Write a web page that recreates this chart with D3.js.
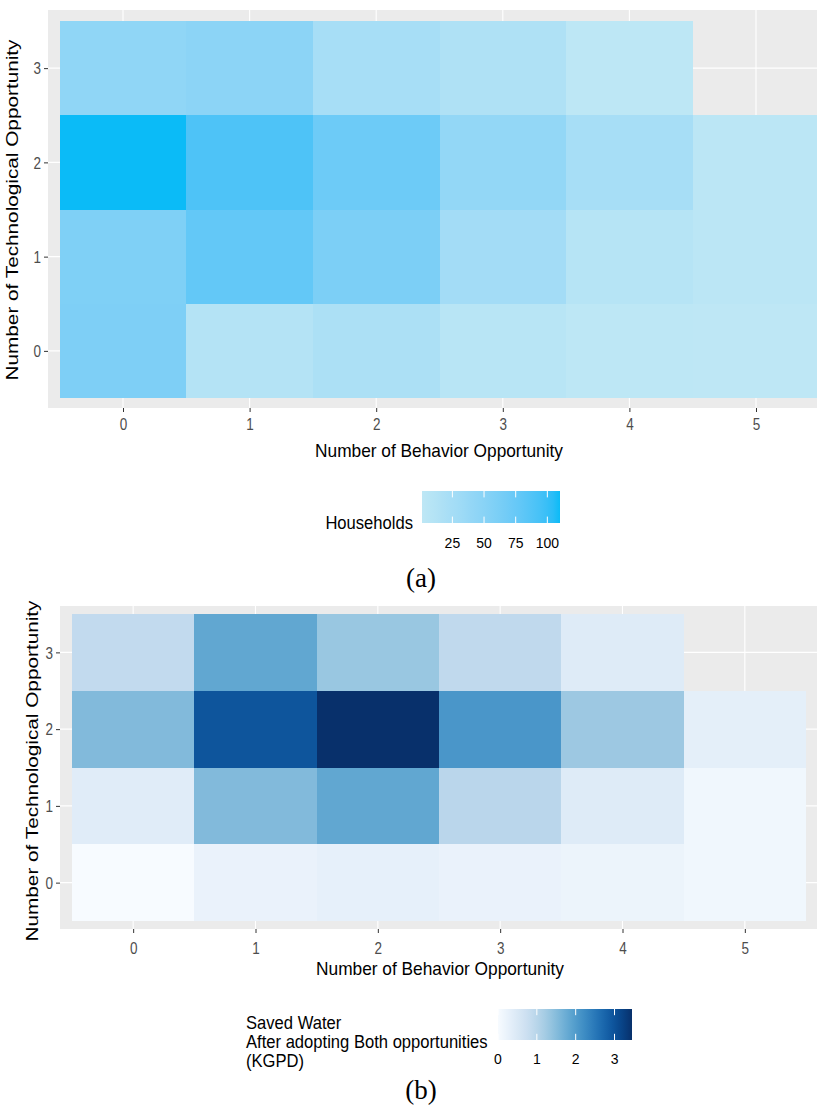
<!DOCTYPE html>
<html>
<head>
<meta charset="utf-8">
<script src="https://cdn.jsdelivr.net/npm/d3@7"></script>
<style>
  body { margin: 0; background: #fff; }
  svg { display: block; }
</style>
</head>
<body>
<svg id="fig" width="817" height="1111"></svg>
<script>
// categories
const behavior = [0, 1, 2, 3, 4, 5];
const technology = [0, 1, 2, 3];

// (a) households, one array per technological level, indexed by behavior (null = no tile)
const householdsTech0 = [59, 11, 19, 7, 2, 1];
const householdsTech1 = [58, 78, 60, 27, 9, 4];
const householdsTech2 = [110, 90, 71, 41, 23, 4];
const householdsTech3 = [44, 47, 23, 16, 2, null];
const householdsTicks = [25, 50, 75, 100];

// (b) saved water (KGPD)
const savedTech0 = [0, 0.23, 0.29, 0.23, 0.19, 0.12];
const savedTech1 = [0.40, 1.53, 1.84, 0.98, 0.43, 0.12];
const savedTech2 = [1.53, 2.97, 3.45, 2.08, 1.29, 0.33];
const savedTech3 = [0.88, 1.84, 1.32, 0.91, 0.43, null];
const savedTicks = [0, 1, 2, 3];

const svg = d3.select('#fig');
const FONT = '"Liberation Sans", Arial, sans-serif';
const STRETCH = 1.1;   // source figure text is a bit taller than wide
const YSTRETCH = 1.2;  // rotated titles are stretched along their length

function toCells(rows) {
  const cells = [];
  rows.forEach((row, t) => row.forEach((v, b) => {
    if (v != null) cells.push({ b: behavior[b], t: technology[t], v: v });
  }));
  return cells;
}

// horizontal text with the vertical stretch of the original
function label(g, x, y, txt, size, anchor, color) {
  return g.append('text')
    .attr('transform', 'translate(' + x + ',' + y + ') scale(1,' + STRETCH + ')')
    .attr('text-anchor', anchor || 'middle')
    .attr('font-family', FONT)
    .attr('font-size', size)
    .attr('fill', color || '#000')
    .text(txt);
}

function drawPanel(o) {
  const g = svg.append('g');
  const x = d3.scaleLinear().domain([-0.5, 5.5]).range(o.xRange);
  const y = d3.scaleLinear().domain([-0.5, 3.5]).range(o.yRange);

  g.append('rect')
    .attr('x', o.panel[0]).attr('y', o.panel[1])
    .attr('width', o.panel[2] - o.panel[0]).attr('height', o.panel[3] - o.panel[1])
    .attr('fill', '#ebebeb');

  g.selectAll('.vgrid').data(behavior).enter().append('line')
    .attr('x1', d => x(d)).attr('x2', d => x(d))
    .attr('y1', o.panel[1]).attr('y2', o.panel[3])
    .attr('stroke', '#fff').attr('stroke-width', 1.1);
  g.selectAll('.hgrid').data(technology).enter().append('line')
    .attr('y1', d => y(d)).attr('y2', d => y(d))
    .attr('x1', o.panel[0]).attr('x2', o.panel[2])
    .attr('stroke', '#fff').attr('stroke-width', 1.1);

  const w = Math.abs(x(1) - x(0));
  const h = Math.abs(y(1) - y(0));
  g.selectAll('.tile').data(toCells(o.rows)).enter().append('rect')
    .attr('x', d => x(d.b) - w / 2)
    .attr('y', d => y(d.t) - h / 2)
    .attr('width', w).attr('height', h)
    .attr('fill', d => o.color(d.v))
    .attr('shape-rendering', 'crispEdges');

  // axes
  const xAxis = g.append('g')
    .attr('transform', 'translate(0,' + o.panel[3] + ')')
    .call(d3.axisBottom(x).tickValues(behavior).tickSize(4).tickFormat(d3.format('d')));
  const yAxis = g.append('g')
    .attr('transform', 'translate(' + o.panel[0] + ',0)')
    .call(d3.axisLeft(y).tickValues(technology).tickSize(4).tickFormat(d3.format('d')));
  [xAxis, yAxis].forEach(a => {
    a.select('.domain').remove();
    a.selectAll('line').attr('stroke', '#333');
    a.selectAll('text')
      .attr('font-family', FONT).attr('font-size', 13.5).attr('fill', '#4d4d4d');
  });
  xAxis.selectAll('text')
    .attr('dy', null)
    .attr('y', o.xTickY / 1.2)
    .attr('transform', 'scale(1,1.2)');
  yAxis.selectAll('text')
    .attr('x', -7).attr('dy', '0.36em')
    .attr('transform', 'scale(1,1.2)');

  // titles
  label(g, o.xTitle[0], o.xTitle[1], 'Number of Behavior Opportunity', 17.3);
  g.append('text')
    .attr('transform', 'translate(' + o.yTitle[0] + ',' + o.yTitle[1] + ') rotate(-90) scale(' + YSTRETCH + ',1)')
    .attr('text-anchor', 'middle')
    .attr('font-family', FONT).attr('font-size', 17.3)
    .text('Number of Technological Opportunity');

  // colourbar legend
  const lg = o.legend;
  const ext = d3.extent(toCells(o.rows), d => d.v);
  const lx = d3.scaleLinear().domain(ext).range([lg.x0, lg.x1]);
  const gid = 'grad' + o.id;
  const grad = svg.append('defs').append('linearGradient').attr('id', gid);
  d3.range(0, 1.0001, 0.05).forEach(t => {
    grad.append('stop')
      .attr('offset', (t * 100) + '%')
      .attr('stop-color', o.color(ext[0] + t * (ext[1] - ext[0])));
  });
  g.append('rect')
    .attr('x', lg.x0).attr('y', lg.y0)
    .attr('width', lg.x1 - lg.x0).attr('height', lg.y1 - lg.y0)
    .attr('fill', 'url(#' + gid + ')');
  const tl = (lg.y1 - lg.y0) / 5;
  lg.ticks.forEach(v => {
    g.append('line').attr('x1', lx(v)).attr('x2', lx(v))
      .attr('y1', lg.y0).attr('y2', lg.y0 + tl).attr('stroke', '#fff');
    g.append('line').attr('x1', lx(v)).attr('x2', lx(v))
      .attr('y1', lg.y1 - tl).attr('y2', lg.y1).attr('stroke', '#fff');
    label(g, lx(v), lg.labelY, String(v), 14);
  });
  lg.title.forEach((line, i) => {
    label(g, lg.titleX, lg.titleY + i * 19, line, 16.6, lg.titleAnchor);
  });

  // caption
  g.append('text')
    .attr('x', o.caption[0]).attr('y', o.caption[1])
    .attr('text-anchor', 'middle')
    .attr('font-family', '"Liberation Serif", "Times New Roman", serif')
    .attr('font-size', 27)
    .text(o.caption[2]);
}

const householdsRows = [householdsTech0, householdsTech1, householdsTech2, householdsTech3];
const householdsExt = d3.extent(householdsRows.flat().filter(v => v != null));
drawPanel({
  id: 'a',
  rows: householdsRows,
  color: d3.scaleLinear().domain(householdsExt).range(['#bee7f5', '#0bbbf7']).interpolate(d3.interpolateLab),
  xRange: [59.7, 819.3], yRange: [398, 21],
  panel: [48, 10, 835, 408],
  xTickY: 22,
  xTitle: [439, 457], yTitle: [18, 210],
  legend: { x0: 422, x1: 560, y0: 491, y1: 523, ticks: householdsTicks, labelY: 548,
            title: ['Households'], titleX: 413, titleY: 529, titleAnchor: 'end' },
  caption: [421, 587, '(a)']
});

const savedRows = [savedTech0, savedTech1, savedTech2, savedTech3];
const savedExt = d3.extent(savedRows.flat().filter(v => v != null));
drawPanel({
  id: 'b',
  rows: savedRows,
  color: d3.scaleSequential(d3.interpolateBlues).domain(savedExt),
  xRange: [72, 806], yRange: [921, 614],
  panel: [60, 606, 818, 929],
  xTickY: 25,
  xTitle: [440, 975], yTitle: [38, 771],
  legend: { x0: 498, x1: 632, y0: 1009, y1: 1040, ticks: savedTicks, labelY: 1064,
            title: ['Saved Water', 'After adopting Both opportunities', '(KGPD)'],
            titleX: 246, titleY: 1029, titleAnchor: 'start' },
  caption: [421, 1099, '(b)']
});
</script>
</body>
</html>
